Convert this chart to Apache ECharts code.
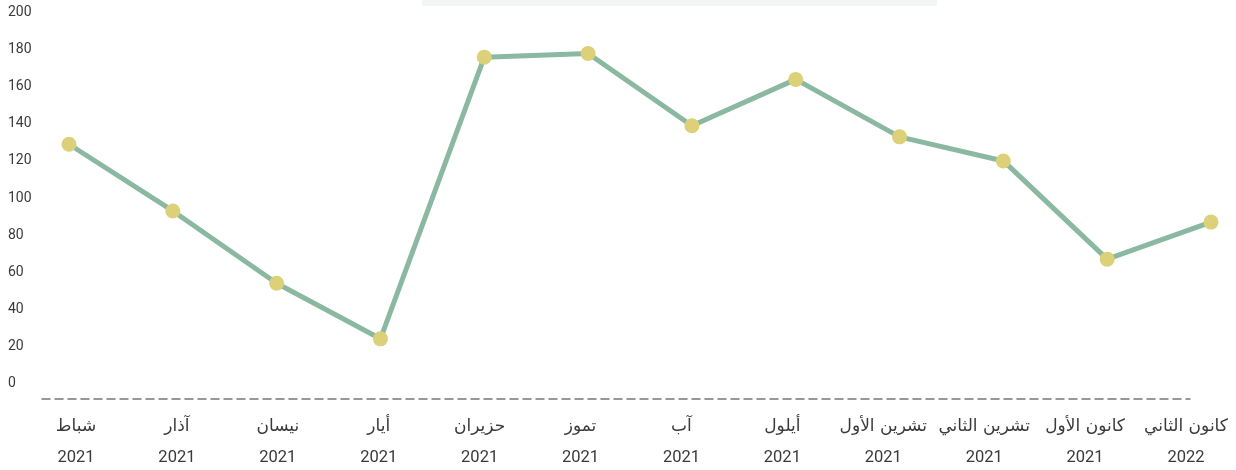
<!DOCTYPE html>
<html>
<head>
<meta charset="utf-8">
<script src="https://cdn.jsdelivr.net/npm/echarts@6/dist/echarts.min.js"></script>
<style>
html,body{margin:0;padding:0;background:#fff;}
#chart{width:1236px;height:470px;}
</style>
</head>
<body>
<div id="chart"></div>
<script>
var months = ['شباط','آذار','نيسان','أيار','حزيران','تموز','آب','أيلول','تشرين الأول','تشرين الثاني','كانون الأول','كانون الثاني'];
var years = ['2021','2021','2021','2021','2021','2021','2021','2021','2021','2021','2021','2022'];
var values = [129, 93, 54, 24, 176, 178, 139, 164, 133, 120, 67, 87];
var yTicks = {min: 0, max: 200, interval: 20};

var labelCats = months.map(function (m, i) { return i; });

var chart = echarts.init(document.getElementById('chart'), null, {renderer: 'canvas'});
chart.setOption({
  animation: false,
  backgroundColor: '#ffffff',
  graphic: [{
    type: 'rect', left: 422, top: 0, shape: {width: 515, height: 6},
    style: {fill: '#f3f5f4'}, silent: true
  }],
  grid: [
    {left: 69, right: 25, top: 12.7, bottom: 86.7},
    {left: 76, right: 50, top: 12.7, bottom: 71},
    {left: 42, right: 46, top: 12.7, bottom: 71}
  ],
  xAxis: [
    {gridIndex: 0, type: 'category', boundaryGap: false, data: months,
     axisLine: {show: false}, axisTick: {show: false}, axisLabel: {show: false}, splitLine: {show: false}},
    {gridIndex: 1, type: 'category', boundaryGap: false, data: labelCats,
     axisLine: {show: false}, axisTick: {show: false}, splitLine: {show: false},
     axisLabel: {
       interval: 0, margin: 12,
       formatter: function (v, i) { return '{m|' + months[i] + '}\n{y|' + years[i] + '}'; },
       rich: {
         m: {fontSize: 17, color: '#3a3a3a', fontFamily: 'DejaVu Sans, sans-serif', lineHeight: 31, align: 'center'},
         y: {fontSize: 16.5, color: '#3a3a3a', fontFamily: 'Roboto, sans-serif', lineHeight: 31, align: 'center'}
       }
     }},
    {gridIndex: 2, type: 'value', min: 0, max: 1,
     axisLine: {show: true, lineStyle: {color: '#777', width: 1.5, type: [8, 5]}},
     axisTick: {show: false}, axisLabel: {show: false}, splitLine: {show: false}}
  ],
  yAxis: [
    {gridIndex: 0, type: 'value', min: yTicks.min, max: yTicks.max, interval: yTicks.interval,
     axisLine: {show: false}, axisTick: {show: false}, splitLine: {show: false},
     axisLabel: {align: 'left', margin: 61, color: '#3a3a3a', fontSize: 14, fontFamily: 'Roboto, sans-serif'}},
    {gridIndex: 1, type: 'value', show: false},
    {gridIndex: 2, type: 'value', show: false}
  ],
  series: [{
    type: 'line', xAxisIndex: 0, yAxisIndex: 0, data: values,
    symbol: 'circle', symbolSize: 15, showSymbol: true,
    lineStyle: {color: '#8bb8a0', width: 5},
    itemStyle: {color: '#dcd178', borderWidth: 0},
    z: 3
  }]
});
</script>
</body>
</html>
